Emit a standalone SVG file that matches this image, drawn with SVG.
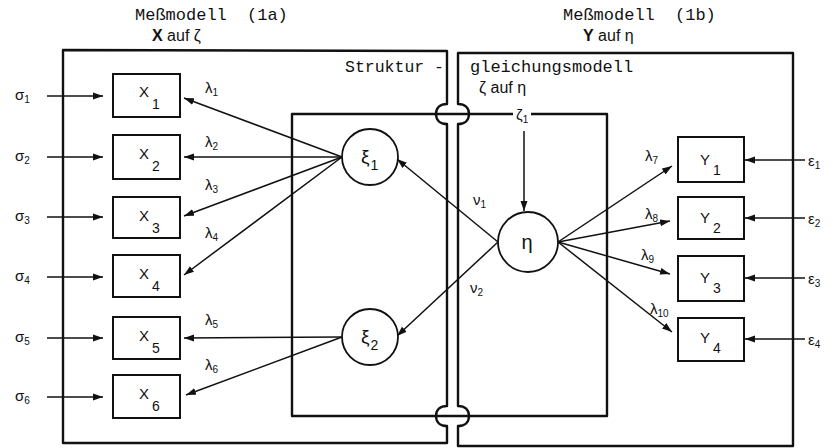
<svg xmlns="http://www.w3.org/2000/svg" width="833" height="448" viewBox="0 0 833 448">
<defs>
<marker id="ah" markerUnits="userSpaceOnUse" markerWidth="10" markerHeight="8" refX="10" refY="4" orient="auto">
<path d="M0,0.5 L10,4 L0,7.5 Z" fill="#111"/>
</marker>
<style>
.frame{fill:none;stroke:#111;stroke-width:2.4;stroke-linejoin:round}
.box{fill:#fff;stroke:#111;stroke-width:2}
.node{fill:#fff;stroke:#111;stroke-width:1.8}
.con{fill:none;stroke:#111;stroke-width:1.5;marker-end:url(#ah)}
.mono{font-family:"Liberation Mono","DejaVu Sans Mono",monospace;fill:#111}
.sans{font-family:"Liberation Sans","DejaVu Sans",sans-serif;fill:#111}
.lab{font-size:15px}
.sub{font-size:10px}
.bsub{font-size:14px}
</style>
</defs>
<rect width="833" height="448" fill="#fff"/>

<g id="frames">
<path class="frame" d="M447,51 V104 C440,104 436,108 436,114 C436,120 440,124 447,124 V406 C440,406 436,410 436,416 C436,422 440,426 447,426 V443 H63 V50 Z"/>
<path class="frame" d="M458,53 V104 C465,104 469,108 469,114 C469,120 465,124 458,124 V406 C465,406 469,410 469,416 C469,422 465,426 458,426 V446 H793 V53 Z"/>
<path class="frame" d="M513,114 H292 V416 H607 V114 H531"/>
</g>

<g id="headings">
<text class="mono" x="135" y="20" font-size="17" word-spacing="10">Meßmodell (1a)</text>
<text class="sans" x="152" y="41" font-size="16"><tspan font-weight="bold">X</tspan> auf ζ</text>
<text class="mono" x="563" y="20" font-size="17" word-spacing="10">Meßmodell (1b)</text>
<text class="sans" x="583" y="41" font-size="16"><tspan font-weight="bold">Y</tspan> auf η</text>
<text class="mono" x="345" y="72" font-size="16.5">Struktur -</text>
<text class="mono" x="470" y="72" font-size="17">gleichungsmodell</text>
<text class="sans" x="479" y="93" font-size="16">ζ auf η</text>
<text class="sans" x="516" y="120" font-size="15">ζ<tspan class="sub" dy="3">1</tspan></text>
</g>

<g id="connectors">
<!-- sigma arrows -->
<path class="con" d="M47,96 H103"/>
<path class="con" d="M47,157 H103"/>
<path class="con" d="M47,217 H103"/>
<path class="con" d="M47,277 H103"/>
<path class="con" d="M47,338 H103"/>
<path class="con" d="M47,397 H103"/>
<!-- lambda from xi1 -->
<path class="con" d="M342,157 L184,98"/>
<path class="con" d="M342,157 L184,157"/>
<path class="con" d="M342,157 L184,216"/>
<path class="con" d="M342,157 L184,275"/>
<!-- lambda from xi2 -->
<path class="con" d="M342,337 L184,338"/>
<path class="con" d="M342,337 L186,395"/>
<!-- zeta to eta -->
<path class="con" d="M524,131 V211"/>
<!-- eta to xi -->
<path class="con" d="M498,242 L397,159"/>
<path class="con" d="M498,242 L397,336"/>
<!-- eta to Y -->
<path class="con" d="M558,242 L672,166"/>
<path class="con" d="M558,242 L670,221"/>
<path class="con" d="M558,242 L670,274"/>
<path class="con" d="M558,242 L672,332"/>
<!-- epsilon arrows -->
<path class="con" d="M805,160 H745"/>
<path class="con" d="M805,218 H745"/>
<path class="con" d="M805,278 H745"/>
<path class="con" d="M805,339 H745"/>
</g>

<g id="edge-labels" class="sans">
<text x="15" y="100" class="lab">σ<tspan class="sub" dy="3">1</tspan></text>
<text x="15" y="161" class="lab">σ<tspan class="sub" dy="3">2</tspan></text>
<text x="15" y="221" class="lab">σ<tspan class="sub" dy="3">3</tspan></text>
<text x="15" y="281" class="lab">σ<tspan class="sub" dy="3">4</tspan></text>
<text x="15" y="342" class="lab">σ<tspan class="sub" dy="3">5</tspan></text>
<text x="15" y="401" class="lab">σ<tspan class="sub" dy="3">6</tspan></text>
<text x="205" y="93" class="lab">λ<tspan class="sub" dy="3">1</tspan></text>
<text x="205" y="147" class="lab">λ<tspan class="sub" dy="3">2</tspan></text>
<text x="205" y="190" class="lab">λ<tspan class="sub" dy="3">3</tspan></text>
<text x="205" y="238" class="lab">λ<tspan class="sub" dy="3">4</tspan></text>
<text x="205" y="325" class="lab">λ<tspan class="sub" dy="3">5</tspan></text>
<text x="205" y="370" class="lab">λ<tspan class="sub" dy="3">6</tspan></text>
<text x="645" y="161" class="lab">λ<tspan class="sub" dy="3">7</tspan></text>
<text x="645" y="219" class="lab">λ<tspan class="sub" dy="3">8</tspan></text>
<text x="641" y="260" class="lab">λ<tspan class="sub" dy="3">9</tspan></text>
<text x="650" y="314" class="lab">λ<tspan class="sub" dy="3">10</tspan></text>
<text x="473" y="205" class="lab">ν<tspan class="sub" dy="3">1</tspan></text>
<text x="470" y="293" class="lab">ν<tspan class="sub" dy="3">2</tspan></text>
<text x="808" y="166" class="lab">ε<tspan class="sub" dy="3">1</tspan></text>
<text x="808" y="224" class="lab">ε<tspan class="sub" dy="3">2</tspan></text>
<text x="808" y="284" class="lab">ε<tspan class="sub" dy="3">3</tspan></text>
<text x="808" y="345" class="lab">ε<tspan class="sub" dy="3">4</tspan></text>
</g>

<g id="X1"><rect class="box" x="113" y="74" width="67" height="43"/><text class="sans" x="139" y="97" font-size="15">X<tspan class="bsub" dx="3" dy="12">1</tspan></text></g>
<g id="X2"><rect class="box" x="113" y="135" width="67" height="44"/><text class="sans" x="139" y="159" font-size="15">X<tspan class="bsub" dx="3" dy="12">2</tspan></text></g>
<g id="X3"><rect class="box" x="113" y="197" width="67" height="41"/><text class="sans" x="139" y="221" font-size="15">X<tspan class="bsub" dx="3" dy="12">3</tspan></text></g>
<g id="X4"><rect class="box" x="113" y="255" width="67" height="42"/><text class="sans" x="139" y="279" font-size="15">X<tspan class="bsub" dx="3" dy="12">4</tspan></text></g>
<g id="X5"><rect class="box" x="113" y="317" width="67" height="42"/><text class="sans" x="139" y="341" font-size="15">X<tspan class="bsub" dx="3" dy="12">5</tspan></text></g>
<g id="X6"><rect class="box" x="113" y="375" width="67" height="43"/><text class="sans" x="139" y="399" font-size="15">X<tspan class="bsub" dx="3" dy="12">6</tspan></text></g>

<g id="xi1"><circle class="node" cx="370" cy="157" r="28"/><text class="sans" x="361" y="163" font-size="19">ξ<tspan class="bsub" dx="1" dy="7">1</tspan></text></g>
<g id="xi2"><circle class="node" cx="370" cy="337" r="28"/><text class="sans" x="361" y="343" font-size="19">ξ<tspan class="bsub" dx="1" dy="7">2</tspan></text></g>
<g id="eta"><circle class="node" cx="528" cy="242" r="30"/><text class="sans" x="527" y="249" font-size="20" text-anchor="middle">η</text></g>

<g id="Y1"><rect class="box" x="678" y="137" width="66" height="45"/><text class="sans" x="700" y="165" font-size="15">Y<tspan class="bsub" dx="3" dy="10">1</tspan></text></g>
<g id="Y2"><rect class="box" x="678" y="197" width="66" height="42"/><text class="sans" x="700" y="223" font-size="15">Y<tspan class="bsub" dx="3" dy="10">2</tspan></text></g>
<g id="Y3"><rect class="box" x="678" y="256" width="66" height="45"/><text class="sans" x="700" y="283" font-size="15">Y<tspan class="bsub" dx="3" dy="10">3</tspan></text></g>
<g id="Y4"><rect class="box" x="678" y="318" width="66" height="43"/><text class="sans" x="700" y="343" font-size="15">Y<tspan class="bsub" dx="3" dy="10">4</tspan></text></g>
</svg>
